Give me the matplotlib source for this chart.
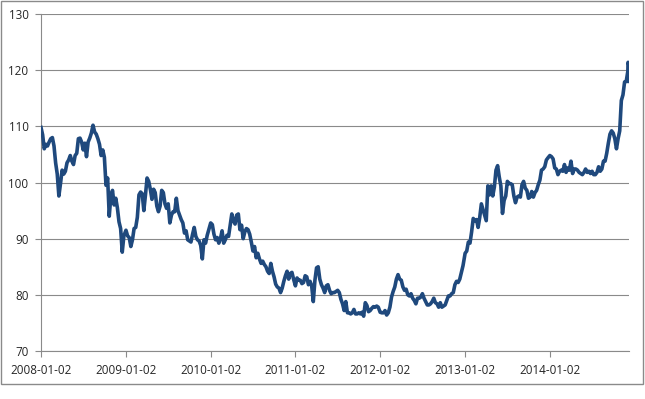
import matplotlib
matplotlib.use("Agg")
import matplotlib.pyplot as plt
import matplotlib.dates as mdates
from matplotlib.patches import Rectangle
import numpy as np
import pandas as pd

# Weekly values (each year starts on Jan 2, one value every 7 days)
v2008 = [109.8, 108.5, 106.0, 106.8, 106.5, 107.2, 107.8, 108.0, 106.5, 103.5,
         101.5, 97.6, 99.8, 102.2, 101.5, 102.0, 103.5, 104.0, 104.8, 103.8,
         103.2, 104.8, 105.2, 107.8, 107.9, 107.2, 105.8, 107.0, 104.6, 107.2,
         107.9, 108.8, 110.2, 109.0, 108.6, 107.8, 106.8, 104.8, 105.8, 104.5,
         99.5, 100.8, 94.0, 97.6, 98.6, 96.0, 97.2, 95.5, 93.0, 91.8,
         87.6, 90.5]
v2009 = [91.5, 90.5, 90.2, 88.6, 89.8, 91.8, 92.0, 93.8, 97.8, 98.3,
         98.0, 95.0, 97.8, 100.8, 100.2, 98.8, 97.0, 98.8, 98.2, 95.8,
         94.8, 95.8, 98.6, 98.2, 96.2, 95.4, 96.2, 92.8, 94.2, 94.8,
         94.8, 97.2, 95.0, 94.2, 93.4, 92.8, 91.0, 91.4, 89.8, 89.6,
         89.4, 90.8, 92.0, 90.4, 89.8, 89.6, 88.8, 86.4, 89.8, 89.2,
         90.6, 91.6]
v2010 = [92.8, 92.5, 90.8, 89.8, 90.2, 89.2, 90.0, 91.4, 89.2, 89.8,
         90.6, 90.4, 92.4, 94.4, 93.2, 92.6, 94.2, 94.4, 91.6, 92.4,
         90.0, 91.2, 91.8, 91.6, 90.8, 89.4, 87.8, 88.6, 86.6, 87.4,
         86.4, 85.6, 86.0, 85.4, 85.0, 84.2, 83.8, 85.6, 84.2, 83.2,
         81.9, 81.4, 81.2, 80.4, 81.2, 82.4, 83.4, 84.2, 82.8, 83.8,
         84.0, 82.8]
v2011 = [81.6, 83.0, 82.6, 82.6, 82.0, 82.2, 83.4, 83.2, 81.8, 82.4,
         81.6, 78.8, 82.6, 84.8, 85.0, 82.8, 81.8, 81.2, 80.4, 81.6,
         81.8, 80.8, 80.2, 80.4, 80.4, 80.6, 80.8, 80.4, 79.2, 78.4,
         77.2, 78.8, 76.8, 76.8, 76.6, 76.8, 77.4, 76.6, 76.6, 76.8,
         76.6, 76.9, 76.2, 78.6, 78.1, 77.0, 77.2, 77.6, 77.9, 77.8,
         78.0, 77.8]
v2012 = [76.9, 76.8, 76.8, 77.2, 76.4, 76.8, 77.8, 79.6, 80.6, 81.4,
         82.8, 83.6, 82.8, 82.6, 81.4, 80.8, 81.0, 80.0, 79.8, 80.2,
         79.4, 79.0, 78.4, 79.4, 79.4, 79.6, 80.2, 79.4, 78.8, 78.2,
         78.2, 78.4, 78.8, 79.4, 78.6, 78.4, 77.8, 78.6, 77.8, 78.0,
         78.2, 79.0, 79.8, 79.8, 80.2, 80.4, 81.8, 82.4, 82.2, 82.8,
         84.0, 85.2]
v2013 = [87.4, 87.8, 89.4, 89.2, 91.2, 93.6, 93.2, 93.4, 92.0, 93.8,
         96.2, 95.2, 94.2, 93.2, 99.4, 97.8, 99.4, 97.6, 99.2, 102.2,
         103.0, 101.0, 99.4, 94.5, 96.8, 97.6, 100.2, 99.8, 99.8, 99.6,
         97.6, 96.4, 97.4, 97.6, 97.4, 99.6, 100.2, 99.0, 98.6, 97.2,
         97.4, 98.4, 97.4, 98.2, 98.6, 99.6, 100.4, 102.2, 102.4, 102.8,
         104.0, 104.4]
v2014 = [104.8, 104.6, 104.2, 102.6, 102.4, 101.4, 102.0, 102.2, 102.0, 103.2,
         101.8, 102.6, 102.2, 103.8, 101.6, 102.4, 102.4, 102.2, 101.8, 101.6,
         101.4, 101.8, 102.4, 101.8, 102.0, 101.6, 102.0, 101.4, 101.4, 101.8,
         102.8, 102.0, 102.4, 103.8, 103.8, 105.2, 107.0, 108.6, 109.2, 108.8,
         107.8, 106.0, 107.8, 109.2, 114.6, 115.6, 117.9, 118.0, 119.8]
tail_dates = ["2014-12-05", "2014-12-08", "2014-12-09"]
tail_values = [121.4, 121.0, 118.0]

years = {2008: v2008, 2009: v2009, 2010: v2010, 2011: v2011,
         2012: v2012, 2013: v2013, 2014: v2014}

tick_labels = ["2008-01-02", "2009-01-02", "2010-01-02", "2011-01-02",
               "2012-01-02", "2013-01-02", "2014-01-02"]
y_ticks = [70, 80, 90, 100, 110, 120, 130]

dates = []
values = []
for yr, vals in years.items():
    d = pd.date_range(f"{yr}-01-02", periods=len(vals), freq="7D")
    dates.extend(d)
    values.extend(vals)
dates.extend(pd.to_datetime(tail_dates))
values.extend(tail_values)
dates = pd.to_datetime(dates)

fig = plt.figure(figsize=(6.45, 3.99), dpi=100)
ax = fig.add_axes([41/645, 1 - 351/399, (629-41)/645, (351-14)/399])

grid_c = "#8a8a8a"
text_c = "#262626"
ax.plot(dates, values, color="#1f497d", lw=2.6, solid_joinstyle="round",
        zorder=3)

ax.set_ylim(70, 130)
ax.set_yticks(y_ticks)
ax.set_xlim(dates[0], dates[-1])
ax.set_xticks(pd.to_datetime(tick_labels))
ax.set_xticklabels(tick_labels)

ax.yaxis.grid(True, color=grid_c, lw=0.8)
ax.set_axisbelow(True)
for s in ["top", "right"]:
    ax.spines[s].set_visible(False)
for s in ["left", "bottom"]:
    ax.spines[s].set_color(grid_c)
    ax.spines[s].set_linewidth(0.8)

ax.tick_params(axis="both", color=grid_c, width=0.8, length=4,
               labelcolor=text_c, labelsize=8.4)
ax.tick_params(axis="y", pad=5)
ax.tick_params(axis="x", pad=5)
for lab in ax.get_xticklabels() + ax.get_yticklabels():
    lab.set_fontfamily("Open Sans")

fig.patches.append(Rectangle((1/645, 1 - 384/399), 642/645, 383/399,
                             transform=fig.transFigure, fill=False,
                             edgecolor="#8a8a8a", lw=1.0))

fig.savefig("out.png", dpi=100)
